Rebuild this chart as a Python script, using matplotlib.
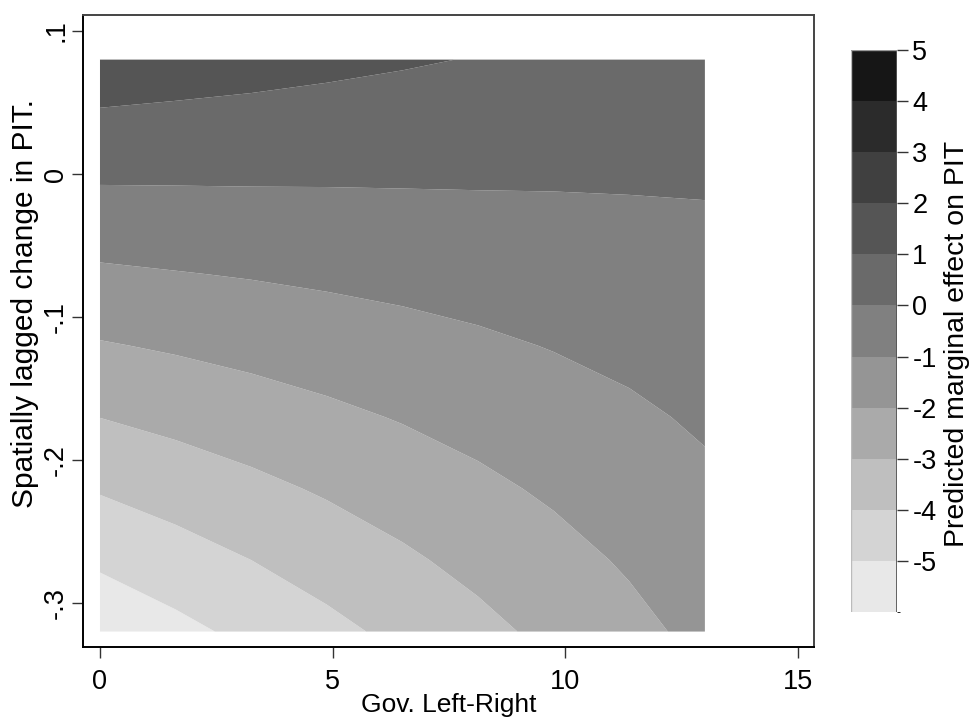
import numpy as np
import matplotlib
matplotlib.use('Agg')
import matplotlib.pyplot as plt
from matplotlib.colors import ListedColormap, BoundaryNorm

plt.rcParams['font.family'] = ['Liberation Sans', 'DejaVu Sans']
plt.rcParams['axes.unicode_minus'] = False

# grid
gov_lr = [0, 1.625, 3.25, 4.875, 6.5, 8.125, 9.75, 11.375, 13]
spatial_lag = [0.08, 0.03, -0.02, -0.07, -0.12, -0.17, -0.22, -0.27, -0.32]
# rows = spatial_lag, columns = gov_lr
effect = [
    [1.62, 1.49, 1.36, 1.22, 1.09, 0.96, 0.83, 0.70, 0.57],
    [0.70, 0.64, 0.59, 0.54, 0.49, 0.43, 0.38, 0.33, 0.28],
    [-0.23, -0.20, -0.17, -0.15, -0.12, -0.09, -0.07, -0.04, -0.01],
    [-1.15, -1.04, -0.94, -0.83, -0.73, -0.62, -0.52, -0.41, -0.30],
    [-2.07, -1.89, -1.70, -1.52, -1.33, -1.15, -0.96, -0.78, -0.59],
    [-2.99, -2.73, -2.47, -2.20, -1.94, -1.68, -1.41, -1.15, -0.88],
    [-3.92, -3.57, -3.23, -2.89, -2.55, -2.20, -1.86, -1.52, -1.17],
    [-4.84, -4.42, -4.00, -3.57, -3.15, -2.73, -2.31, -1.89, -1.46],
    [-5.76, -5.26, -4.76, -4.26, -3.76, -3.26, -2.76, -2.26, -1.75],
]
levels = list(range(-6, 6))
band_greys = [232, 212, 191, 170, 149, 128, 106, 85, 64, 43, 22]

x_ticks = [0, 5, 10, 15]
y_ticks = [-0.3, -0.2, -0.1, 0, 0.1]
y_ticklabels = ['-.3', '-.2', '-.1', '0', '.1']
cb_ticks = list(range(-5, 6))

colors = [(g / 255, g / 255, g / 255) for g in band_greys]
cmap = ListedColormap(colors)
norm = BoundaryNorm(levels, cmap.N)

fig = plt.figure(figsize=(9.73, 7.19), dpi=100)
ax = fig.add_axes([83 / 973, 1 - 647 / 719, (814 - 83) / 973, (647 - 15) / 719])

X, Y = np.meshgrid(gov_lr, spatial_lag)
cf = ax.contourf(X, Y, np.array(effect), levels=levels, cmap=cmap, norm=norm,
                 antialiased=True)

ax.set_xlim(-0.365, 15.345)
ax.set_ylim(-0.3308, 0.1112)
ax.set_xticks(x_ticks)
ax.set_yticks(y_ticks)
ax.set_yticklabels(y_ticklabels, rotation=90, va='center')

for side in ['left', 'bottom']:
    ax.spines[side].set_linewidth(1.4)
    ax.spines[side].set_color('black')
for side in ['top', 'right']:
    ax.spines[side].set_linewidth(1.4)
    ax.spines[side].set_color('#444444')

ax.tick_params(axis='both', direction='out', length=8, width=1.0, color='#333333',
               labelsize=19.5)
ax.tick_params(axis='x', pad=8)
ax.tick_params(axis='y', pad=2)

ax.set_xlabel('Gov. Left-Right', fontsize=19, va='center')
ax.xaxis.set_label_coords(0.5, -0.0915)
ax.set_ylabel('Spatially lagged change in PIT.', fontsize=21.5, va='center')
ax.yaxis.set_label_coords(-0.0793, 0.543)

# colorbar
cax = fig.add_axes([851 / 973, 1 - 612 / 719, 46 / 973, (612 - 50) / 719])
cb = fig.colorbar(cf, cax=cax, ticks=cb_ticks)
cb.outline.set_visible(False)
cax.axvline(1, color='#555555', lw=2.0)
cax.axvline(0, color='#bbbbbb', lw=1.0)
cax.axhline(5, color='#999999', lw=1.0)
cax.tick_params(direction='out', length=8, width=1.0, color='#333333', labelsize=19.5, pad=3)
cax.set_yticklabels([str(t) for t in cb_ticks])
cb.set_label('Predicted marginal effect on PIT', fontsize=20.5, va='center', ha='center')
cax.yaxis.set_label_coords(2.3, 0.477)

fig.savefig('out.png', dpi=100)
